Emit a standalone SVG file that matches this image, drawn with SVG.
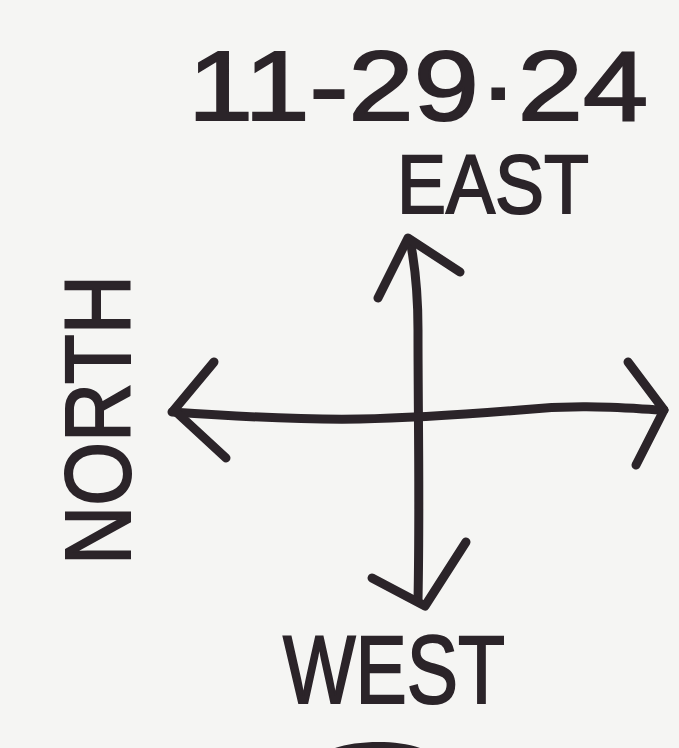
<svg xmlns="http://www.w3.org/2000/svg" width="679" height="748" viewBox="0 0 679 748">
<style>
.ink{fill:none;stroke:#2b2429;stroke-width:9;stroke-linecap:round;stroke-linejoin:round}
.lbl{font-family:"Liberation Sans","DejaVu Sans",sans-serif;fill:#2b2429;stroke:#2b2429;stroke-width:2}
</style>
<rect width="679" height="748" fill="#f5f5f3"/>
<g id="date"><text class="lbl" x="188" y="120" font-size="98" textLength="460" lengthAdjust="spacingAndGlyphs">11-29·24</text></g>
<g id="east"><text class="lbl" x="397" y="213" font-size="84" textLength="192" lengthAdjust="spacingAndGlyphs">EAST</text></g>
<g id="west"><text class="lbl" x="283" y="703" font-size="96" textLength="222" lengthAdjust="spacingAndGlyphs">WEST</text></g>
<g id="north"><text class="lbl" transform="translate(130,565) rotate(-90)" font-size="92" textLength="290" lengthAdjust="spacingAndGlyphs">NORTH</text></g>
<g id="connectors">
<path class="ink" d="M418 600 C420 500 418 420 418 330 C418 290 414 260 410 240"/>
<path class="ink" d="M378 298 L408 238 L460 272"/>
<path class="ink" d="M372 578 L425 606 L466 542"/>
<path class="ink" d="M172 412 C230 416 300 420 360 419 C420 418 470 414 520 410 C580 404 620 408 664 410"/>
<path class="ink" d="M214 362 L174 410 L226 458"/>
<path class="ink" d="M628 362 L664 410 L636 465"/>
</g>
<path d="M335 748 C355 741 395 739 420 748 Z" fill="#2b2429"/>
</svg>
